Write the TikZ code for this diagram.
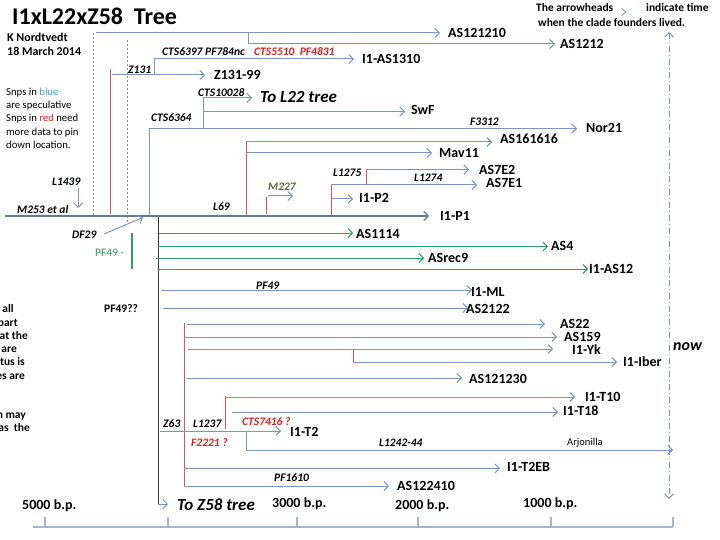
\documentclass[tikz,border=0pt]{standalone}
\usepackage{fontspec}
\setmainfont{Carlito}
\usetikzlibrary{arrows.meta}
\definecolor{lnblue}{HTML}{7B96BE}
\definecolor{lndark}{HTML}{62799A}
\definecolor{lngreen}{HTML}{2E9E5E}
\definecolor{lnred}{HTML}{E0505A}
\definecolor{lnblack}{HTML}{3A3A3A}
\definecolor{txred}{HTML}{E02020}
\definecolor{txblue}{HTML}{3DA5D9}
\definecolor{txolive}{HTML}{5B6E3B}
\definecolor{lngray}{HTML}{8A8A8A}
\definecolor{axisc}{HTML}{A3B5CF}
\definecolor{nowc}{HTML}{7F93B0}
\newcommand\fleaf{\fontsize{14}{16}\selectfont\bfseries}
\newcommand\fsnp{\fontsize{11.5}{13}\selectfont\bfseries\itshape}
\newcommand\fnote{\fontsize{11.5}{13}\selectfont\bfseries}
\newcommand\fleg{\fontsize{10.7}{13}\selectfont}
\newcommand\fbig{\fontsize{17}{19}\selectfont\bfseries\itshape}
\tikzset{
  br/.style={draw=lnblue, line width=1pt},
  bra/.style={br, ->},
  mainbr/.style={draw=lndark, line width=1.1pt, ->},
  gbr/.style={draw=lngreen, line width=1pt, ->},
  rbr/.style={draw=lnred, line width=1pt},
  dsh/.style={draw=lngray, line width=0.7pt, dash pattern=on 2pt off 2pt},
  leaf/.style={font=\fleaf, anchor=base west, inner sep=0pt, text=black},
  snp/.style={font=\fsnp, anchor=base west, inner sep=0pt, text=black},
  snpred/.style={snp, text=txred},
  note/.style={font=\fnote, anchor=base west, inner sep=0pt, text=black},
  cut/.style={font=\fnote, anchor=base east, inner sep=0pt, text=black},
  leg/.style={font=\fleg, anchor=base west, inner sep=0pt, text=black},
  bigit/.style={font=\fbig, anchor=base west, inner sep=0pt, text=black},
  axisline/.style={draw=axisc, line width=1.4pt},
}
\begin{document}
\begin{tikzpicture}[x=1pt,y=-1pt,>={Straight Barb[length=4.5pt,width=9pt]}]
\useasboundingbox[fill=white] (0,0) rectangle (720,540);

% ---------- headings ----------
\node[anchor=base west, inner sep=0pt, font=\fontsize{24}{26}\selectfont\bfseries] (title) at (12,25) {I1xL22xZ58\ \ Tree};
\node[note, font=\fontsize{12}{14}\selectfont\bfseries] (author) at (7,42) {K Nordtvedt};
\node[note, font=\fontsize{12}{14}\selectfont\bfseries] (date) at (7,56) {18 March 2014};
\node[leg] (leg1) at (6,95.5) {Snps in \textcolor{txblue}{blue}};
\node[leg] (leg2) at (6,108.8) {are speculative};
\node[leg] (leg3) at (6,122) {Snps in \textcolor{txred}{red} need};
\node[leg] (leg4) at (6,135.3) {more data to pin};
\node[leg] (leg5) at (6,148.5) {down location.};

\node[note] (arrA) at (536,12) {The arrowheads};
\draw[draw=nowc, line width=0.9pt] (621.5,8.5) coordinate (ah1) -- (626,12) coordinate (ah2) -- (621.5,15.5) coordinate (ah3);
\node[note] (arrB) at (646,12) {indicate time};
\node[note] (arrC) at (538,27) {when the clade founders lived.};

% cut-off text at left edge
\node[cut] (c1) at (14,312.5) {t all};
\node[cut] (c2) at (18,326) {part};
\node[cut] (c3) at (28,339.5) {at the};
\node[cut] (c4) at (17,352.5) {are};
\node[cut] (c5) at (25,365.5) {tus is};
\node[cut] (c6) at (25,379.5) {es are};
\node[cut] (c7) at (26,418.5) {n may};
\node[cut] (c8) at (30,431.5) {as\ \ the};

% ---------- now line ----------
\coordinate (nowtop) at (669,32);
\coordinate (nowbot) at (669,499);
\draw[draw=nowc, line width=0.9pt, dash pattern=on 6pt off 3pt on 1pt off 3pt, <->] (nowtop) -- (nowbot);
\node[bigit, font=\fontsize{16}{18}\selectfont\bfseries\itshape] (now) at (673,350.5) {now};

% ---------- dashed guides ----------
\coordinate (g1t) at (93,33); \coordinate (g1b) at (93,215);
\coordinate (g2t) at (127,40); \coordinate (g2b) at (127,223);
\draw[dsh] (g1t) -- (g1b);
\draw[dsh] (g2t) -- (g2b);

% ---------- top branches ----------
\coordinate (r0) at (96,33); \coordinate (t0) at (440,33);
\draw[bra] (r0) -- (t0);
\node[leaf] (AS121210) at (448,37.5) {AS121210};
\coordinate (b1) at (248,33); \coordinate (b1d) at (248,44); \coordinate (t1) at (555,44);
\draw[bra] (b1) -- (b1d) -- (t1);
\node[leaf] (AS1212) at (560,48.5) {AS1212};

% red Z131 stem
\coordinate (rz1) at (110,69); \coordinate (rz2) at (110,214);
\draw[rbr] (rz1) -- (rz2);
\coordinate (z0) at (112,75); \coordinate (tz) at (205,75);
\draw[bra] (z0) -- (tz);
\node[snp] (Z131) at (128,73.5) {Z131};
\node[leaf] (Z13199) at (214,79.5) {Z131-99};
\coordinate (c6397a) at (154,75); \coordinate (c6397b) at (154,59); \coordinate (tas1310) at (354,59);
\draw[bra] (c6397a) -- (c6397b) -- (tas1310);
\node[snp] (CTS6397) at (162,55.7) {CTS6397 PF784nc};
\node[snpred] (CTS5510) at (254,55.7) {CTS5510\ \ PF4831};
\node[leaf] (I1AS1310) at (362,63.5) {I1-AS1310};

% CTS6364 branch
\coordinate (s64b) at (149,215); \coordinate (s64t) at (149,128.5); \coordinate (tnor) at (577,128.5);
\draw[bra] (s64b) -- (s64t) -- (tnor);
\node[snp] (CTS6364) at (151,121.7) {CTS6364};
\node[snp] (F3312) at (470,125.7) {F3312};
\node[leaf] (Nor21) at (586,133) {Nor21};

% CTS10028
\coordinate (s28b) at (203,128.5); \coordinate (s28t) at (203,98); \coordinate (tl22) at (252,98);
\draw[bra] (s28b) -- (s28t) -- (tl22);
\node[snp] (CTS10028) at (198,96.5) {CTS10028};
\node[bigit] (ToL22) at (260,102.5) {To L22 tree};
\coordinate (swf0) at (203,111.5); \coordinate (tswf) at (405,111.5);
\draw[bra] (swf0) -- (tswf);
\node[leaf] (SwF) at (411,115) {SwF};

% L69 red branch
\coordinate (l69b) at (246,215); \coordinate (l69t) at (246,142); \coordinate (t1616) at (492,142);
\draw[rbr] (l69b) -- (l69t);
\draw[bra] (l69t) -- (t1616);
\node[leaf] (AS161616) at (500,143.5) {AS161616};
\coordinate (mav0) at (246,153); \coordinate (tmav) at (432,153);
\draw[bra] (mav0) -- (tmav);
\node[leaf] (Mav11) at (439,158) {Mav11};
\node[snp] (L69) at (213,210.7) {L69};

% M227
\coordinate (m227b) at (266,214); \coordinate (m227t) at (266,197);
\draw[rbr] (m227b) -- (m227t);
\coordinate (m227a) at (268,196); \coordinate (tm227) at (293,196);
\draw[bra] (m227a) -- (tm227);
\node[snp, text=txolive] (M227) at (268,190.7) {M227};

% L1275 group
\coordinate (p2b) at (331,215); \coordinate (p2t) at (331,185); \coordinate (t7e1) at (477,185);
\draw[rbr] (p2b) -- (p2t);
\draw[bra] (p2t) -- (t7e1);
\node[leaf] (AS7E1) at (486,187.5) {AS7E1};
\node[snp] (L1274) at (414,181.7) {L1274};
\coordinate (e2b) at (366,185); \coordinate (e2t) at (366,169.5); \coordinate (t7e2) at (469,169.5);
\draw[rbr] (e2b) -- (e2t);
\draw[bra] (e2t) -- (t7e2);
\node[leaf] (AS7E2) at (479,174.8) {AS7E2};
\node[snp] (L1275) at (333,176.7) {L1275};
\coordinate (p20) at (332,199); \coordinate (tp2) at (353,199);
\draw[bra] (p20) -- (tp2);
\node[leaf] (I1P2) at (359,203) {I1-P2};

% main line
\coordinate (m0) at (5,216); \coordinate (tp1) at (429,216);
\draw[mainbr] (m0) -- (tp1);
\node[leaf] (I1P1) at (440,221) {I1-P1};
\node[snp] (M253) at (17,213.7) {M253 et al};
\node[snp] (L1439) at (52,185.7) {L1439};
\coordinate (l1439a) at (78,188); \coordinate (l1439b) at (78,208);
\draw[bra] (l1439a) -- (l1439b);
\node[snp] (DF29) at (72,238.7) {DF29};
\coordinate (df29a) at (104,234); \coordinate (df29b) at (143,217.5);
\draw[bra] (df29a) -- (df29b);

% ---------- Z58 side ----------
\coordinate (k0) at (158,217); \coordinate (k1) at (158,504); \coordinate (tz58) at (168,504);
\draw[draw=lnblack, line width=1pt] (k0) -- (k1);
\draw[bra] (k1) -- (tz58);
\node[bigit] (ToZ58) at (177,510.5) {To Z58 tree};

% PF49 green
\node[note, text=lngreen, font=\fontsize{11.5}{13}\selectfont] (PF49g) at (95,256.7) {PF49 -};
\coordinate (gb1) at (132,233); \coordinate (gb2) at (132,269);
\draw[draw=lngreen, line width=1.5pt] (gb1) -- (gb2);
\coordinate (g10) at (159,233); \coordinate (t1114) at (353,233);
\draw[gbr] (g10) -- (t1114);
\node[leaf] (AS1114) at (356,238.5) {AS1114};
\coordinate (g20) at (158,246.5); \coordinate (tas4) at (548,246.5);
\draw[gbr] (g20) -- (tas4);
\node[leaf] (AS4) at (551,250.5) {AS4};
\coordinate (g30) at (156,258); \coordinate (trec9) at (424,258);
\draw[gbr] (g30) -- (trec9);
\node[leaf] (ASrec9) at (428,262.5) {ASrec9};
\coordinate (g40) at (158,269); \coordinate (tas12) at (588,269);
\draw[gbr] (g40) -- (tas12);
\node[leaf] (I1AS12) at (589,273) {I1-AS12};

% PF49 blue
\coordinate (ml0) at (161,290); \coordinate (tml) at (472,290);
\draw[bra] (ml0) -- (tml);
\node[snp] (PF49) at (256,289.7) {PF49};
\node[leaf] (I1ML) at (471,296) {I1-ML};
\coordinate (a2120) at (163,308); \coordinate (t2122) at (468,308);
\draw[bra] (a2120) -- (t2122);
\node[leaf] (AS2122) at (466,313) {AS2122};
\node[note] (PF49q) at (104,312.7) {PF49??};

% Z63 red stem
\coordinate (zr1) at (184,323); \coordinate (zr2) at (184,486);
\draw[rbr] (zr1) -- (zr2);
\coordinate (a220) at (187,324); \coordinate (tas22) at (545,324);
\draw[bra] (a220) -- (tas22);
\node[leaf] (AS22) at (560,328.5) {AS22};
\coordinate (a1590) at (184,337); \coordinate (tas159) at (557,337);
\draw[bra] (a1590) -- (tas159);
\node[leaf] (AS159) at (564,341) {AS159};
\coordinate (yk0) at (188,349); \coordinate (tyk) at (553,349);
\draw[bra] (yk0) -- (tyk);
\node[leaf] (I1Yk) at (572,354.5) {I1-Yk};
\coordinate (ib1) at (353,349); \coordinate (ib2) at (353,362); \coordinate (tib) at (617,362);
\draw[rbr] (ib1) -- (ib2);
\draw[bra] (ib2) -- (tib);
\node[leaf] (I1Iber) at (623,366) {I1-Iber};
\coordinate (a1230) at (186,378); \coordinate (t1230) at (462,378);
\draw[bra] (a1230) -- (t1230);
\node[leaf] (AS121230) at (469,383.5) {AS121230};

% L1237 red
\coordinate (lr1) at (225,396); \coordinate (lr2) at (225,429);
\draw[rbr] (lr1) -- (lr2);
\coordinate (t100) at (226,397); \coordinate (tt10) at (575,397);
\draw[bra] (t100) -- (tt10);
\node[leaf] (I1T10) at (585,401.5) {I1-T10};
\coordinate (t180) at (232,412); \coordinate (tt18) at (558,412);
\draw[bra] (t180) -- (tt18);
\node[leaf] (I1T18) at (563,415.5) {I1-T18};

% Z63 line
\coordinate (t20) at (160,431); \coordinate (tt2) at (281,431);
\draw[bra] (t20) -- (tt2);
\node[leaf] (I1T2) at (290,436.5) {I1-T2};
\node[snp] (Z63) at (163,427.7) {Z63};
\node[snp] (L1237) at (193,427.7) {L1237};
\node[snpred] (CTS7416) at (242,425.7) {CTS7416 ?};
\node[snpred] (F2221) at (191,446.7) {F2221 ?};

% L1242-44
\coordinate (ar1) at (246,431); \coordinate (ar2) at (246,450); \coordinate (tar) at (673,450);
\draw[bra] (ar1) -- (ar2) -- (tar);
\node[snp] (L124244) at (379,446.7) {L1242-44};
\node[leg, font=\fontsize{10.5}{12}\selectfont] (Arjonilla) at (567,445.5) {Arjonilla};

% bottom branches
\coordinate (eb0) at (184,468.5); \coordinate (teb) at (500,468.5);
\draw[bra] (eb0) -- (teb);
\node[leaf] (I1T2EB) at (507,471.5) {I1-T2EB};
\coordinate (a2410) at (184,486); \coordinate (t2410) at (389,486);
\draw[bra] (a2410) -- (t2410);
\node[leaf] (AS122410) at (397,490.5) {AS122410};
\node[snp] (PF1610) at (274,481.7) {PF1610};

% ---------- time axis ----------
\coordinate (ax0) at (33,527); \coordinate (ax1) at (673,527);
\draw[axisline] (ax0) -- (ax1);
\foreach \tx/\nm in {45/k1,168/k2,297/k3,418/k4,551/k5,673/k6}{
  \coordinate (tick\nm) at (\tx,517);
  \draw[axisline] (tick\nm) -- (\tx,527);
}
\node[leaf] (bp5000) at (22,509.5) {5000 b.p.};
\node[leaf] (bp3000) at (272,507.5) {3000 b.p.};
\node[leaf] (bp2000) at (395,509.5) {2000 b.p.};
\node[leaf] (bp1000) at (523,507.5) {1000 b.p.};
\end{tikzpicture}
\end{document}
